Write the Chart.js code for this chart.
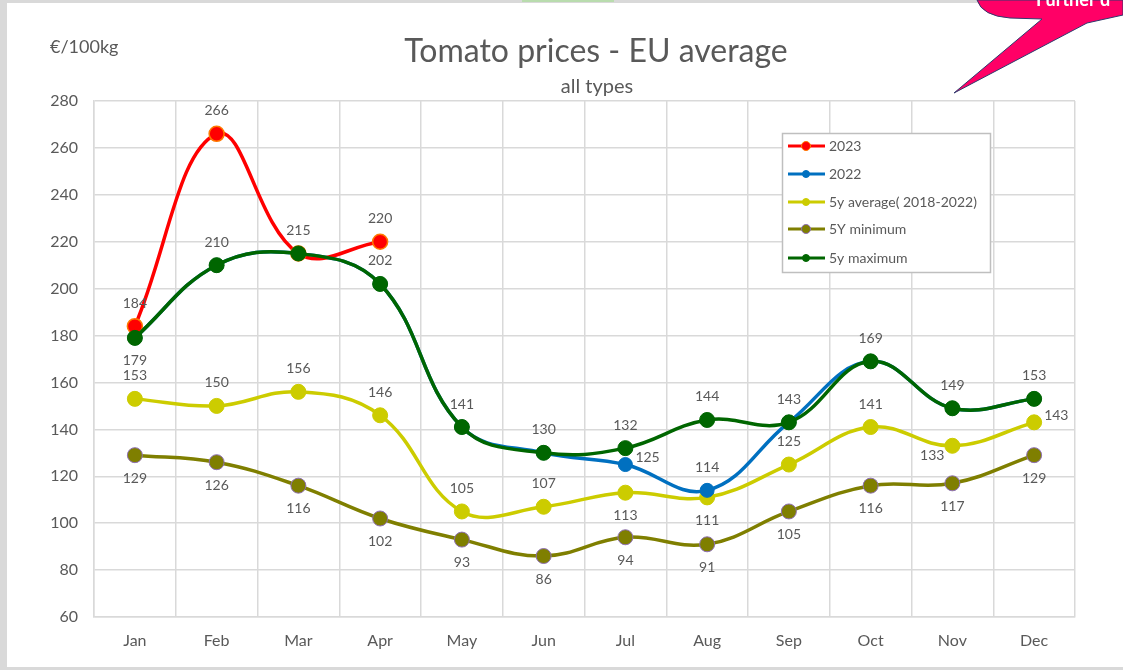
<!DOCTYPE html>
<html>
<head>
<meta charset="utf-8">
<script src="https://cdn.jsdelivr.net/npm/chart.js@4.4.0/dist/chart.umd.min.js"></script>
<style>
  html, body { margin: 0; padding: 0; background: #d9d9d9; }
  canvas { display: block; }
</style>
</head>
<body>
<canvas id="chart" width="1123" height="670"></canvas>
<script>
const MONTHS = ["Jan", "Feb", "Mar", "Apr", "May", "Jun", "Jul", "Aug", "Sep", "Oct", "Nov", "Dec"];

const PRICES_2023 = [184, 266, 215, 220, null, null, null, null, null, null, null, null];
const PRICES_2022 = [179, 210, 215, 202, 141, 130, 125, 114, 143, 169, 149, 153];
const AVG_5Y = [153, 150, 156, 146, 105, 107, 113, 111, 125, 141, 133, 143];
const MIN_5Y = [129, 126, 116, 102, 93, 86, 94, 91, 105, 116, 117, 129];
const MAX_5Y = [179, 210, 215, 202, 141, 130, 132, 144, 143, 169, 149, 153];

const Y_MIN = 60;
const Y_MAX = 280;
const Y_STEP = 20;

const TITLE = "Tomato prices - EU average";
const SUBTITLE = "all types";
const UNIT = "€/100kg";

// where each value label sits: a = above, b = below, r = right, l = left-below, null = none
const LABEL_PLACE = {
  "2023": ["a", "a", null, "a", null, null, null, null, null, null, null, null],
  "2022": [null, null, null, null, null, null, "r", "a", null, null, null, null],
  "avg": ["a", "a", "a", "a", "a", "a", "b", "b", "a", "a", "l", "r"],
  "min": ["b", "b", "b", "b", "b", "b", "b", "b", "b", "b", "b", "b"],
  "max": ["b", "a", "a", "a", "a", "a", "a", "a", "a", "a", "a", "a"],
};

const FONT = "Lato, 'Open Sans', sans-serif";
const TEXT_GREY = "#595959";

function series(key, label, data, color, extra) {
  return Object.assign({
    key: key,
    label: label,
    data: data,
    borderColor: color,
    backgroundColor: color,
    pointBackgroundColor: color,
    pointBorderColor: color,
    borderWidth: 3.5,
    pointRadius: 7.5,
    pointHoverRadius: 7.5,
    pointBorderWidth: 1,
    tension: 0.4,
    spanGaps: false,
  }, extra || {});
}

const datasets = [
  series("2023", "2023", PRICES_2023, "#ff0000", { pointBorderColor: "#ff7a00", pointBorderWidth: 1.5, order: 1 }),
  series("2022", "2022", PRICES_2022, "#0070c0", { pointRadius: 7, order: 2 }),
  series("avg", "5y average( 2018-2022)", AVG_5Y, "#cccc00", { order: 3 }),
  series("min", "5Y minimum", MIN_5Y, "#7f7f00", { pointBorderColor: "#8e6fb5", order: 4 }),
  series("max", "5y maximum", MAX_5Y, "#006600", { order: 0 }),
];

// grey frame around a white sheet
const framePlugin = {
  id: "frame",
  beforeDraw(chart) {
    const ctx = chart.ctx;
    ctx.save();
    ctx.fillStyle = "#d9d9d9";
    ctx.fillRect(0, 0, chart.width, chart.height);
    ctx.fillStyle = "#ffffff";
    ctx.fillRect(7, 3, chart.width - 7, chart.height - 6);
    ctx.fillStyle = "#b9dcae";
    ctx.fillRect(522, 0, 92, 2);
    ctx.restore();
  },
};

const labelsPlugin = {
  id: "valueLabels",
  afterDatasetsDraw(chart) {
    const ctx = chart.ctx;
    ctx.save();
    ctx.font = "14px " + FONT;
    ctx.fillStyle = TEXT_GREY;
    ctx.textBaseline = "middle";
    chart.data.datasets.forEach((ds, i) => {
      const meta = chart.getDatasetMeta(i);
      const places = LABEL_PLACE[ds.key];
      meta.data.forEach((pt, j) => {
        const v = ds.data[j];
        const place = places[j];
        if (v == null || !place) return;
        let x = pt.x, y = pt.y;
        ctx.textAlign = "center";
        if (place === "a") y -= 23;
        else if (place === "b") y += 23;
        else if (place === "r") { x += 10; y -= 7; ctx.textAlign = "left"; }
        else if (place === "l") { x -= 8; y += 10; ctx.textAlign = "right"; }
        ctx.fillText(String(v), x, y);
      });
    });
    ctx.restore();
  },
};

const decorPlugin = {
  id: "decor",
  afterDraw(chart) {
    const ctx = chart.ctx;
    ctx.save();

    // titles
    ctx.fillStyle = TEXT_GREY;
    ctx.textAlign = "center";
    ctx.textBaseline = "middle";
    ctx.font = "32px " + FONT;
    ctx.fillText(TITLE, 596, 52);
    ctx.font = "20px " + FONT;
    ctx.fillText(SUBTITLE, 597, 87);
    ctx.textAlign = "left";
    ctx.font = "18px " + FONT;
    ctx.fillText(UNIT, 50, 47);

    // legend box
    ctx.fillStyle = "#ffffff";
    ctx.fillRect(782, 133, 208, 139);
    ctx.strokeStyle = "#bfbfbf";
    ctx.lineWidth = 1.5;
    ctx.strokeRect(782.5, 133.5, 208, 139);
    const legendOrder = ["2023", "2022", "avg", "min", "max"];
    const rowY = [146, 174, 202, 229, 258];
    legendOrder.forEach((key, r) => {
      const ds = chart.data.datasets.find((d) => d.key === key);
      const y = rowY[r];
      ctx.strokeStyle = ds.borderColor;
      ctx.lineWidth = 3;
      ctx.beginPath();
      ctx.moveTo(788, y);
      ctx.lineTo(825, y);
      ctx.stroke();
      ctx.beginPath();
      ctx.arc(806, y, key === "2023" || key === "min" ? 4.5 : 3.5, 0, Math.PI * 2);
      ctx.fillStyle = ds.pointBackgroundColor;
      ctx.fill();
      ctx.strokeStyle = ds.pointBorderColor;
      ctx.lineWidth = 1;
      ctx.stroke();
      ctx.fillStyle = TEXT_GREY;
      ctx.font = "14px " + FONT;
      ctx.textAlign = "left";
      ctx.fillText(ds.label, 829, y);
    });

    // pink callout in the corner
    ctx.beginPath();
    ctx.moveTo(977, 0);
    ctx.quadraticCurveTo(982, 16, 1010, 18);
    ctx.lineTo(1042, 19);
    ctx.lineTo(954, 93);
    ctx.lineTo(1087, 23);
    ctx.lineTo(1123, 15);
    ctx.lineTo(1123, 0);
    ctx.closePath();
    ctx.fillStyle = "#ff0066";
    ctx.fill();
    ctx.strokeStyle = "#2f3a6e";
    ctx.lineWidth = 1;
    ctx.stroke();
    ctx.fillStyle = "#ffffff";
    ctx.font = "bold 18px " + FONT;
    ctx.textBaseline = "alphabetic";
    ctx.fillText("Further d", 1036, 6);

    ctx.restore();
  },
};

new Chart(document.getElementById("chart"), {
  type: "line",
  data: { labels: MONTHS, datasets: datasets },
  plugins: [framePlugin, labelsPlugin, decorPlugin],
  options: {
    responsive: false,
    devicePixelRatio: 1,
    animation: false,
    layout: { padding: { left: 34, right: 48, top: 101, bottom: 13 } },
    plugins: {
      legend: { display: false },
      tooltip: { enabled: false },
      title: { display: false },
    },
    scales: {
      x: {
        offset: true,
        grid: { color: "#d9d9d9", lineWidth: 1.5, drawTicks: false, offset: true },
        border: { color: "#d9d9d9", width: 1.5 },
        ticks: { color: TEXT_GREY, font: { family: FONT, size: 16 }, padding: 14 },
        afterFit(scale) { scale.height = 40; },
      },
      y: {
        min: Y_MIN,
        max: Y_MAX,
        grid: { color: "#d9d9d9", lineWidth: 1.5, drawTicks: false },
        border: { color: "#d9d9d9", width: 1.5 },
        ticks: { stepSize: Y_STEP, color: TEXT_GREY, font: { family: FONT, size: 16 }, padding: 16 },
        afterFit(scale) { scale.width = 60; },
      },
    },
  },
});
</script>
</body>
</html>
